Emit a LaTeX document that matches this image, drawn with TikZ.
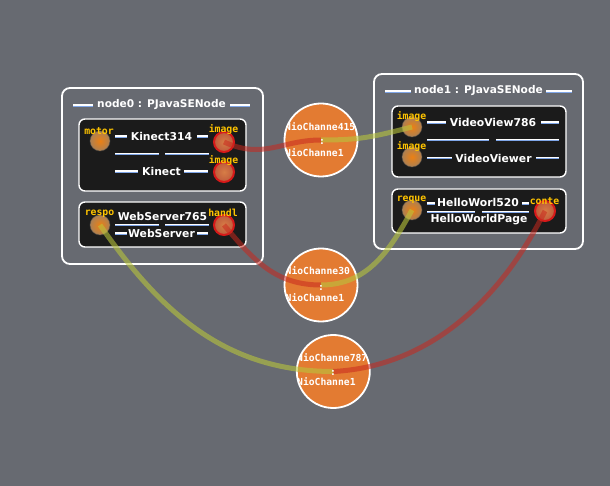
\documentclass[tikz,border=0pt]{standalone}
\usepackage{fontspec}
\setmainfont{DejaVu Sans}
\newfontfamily\pixm{DejaVu Sans Mono}
\usetikzlibrary{calc}
\definecolor{bgc}{HTML}{676A71}
\definecolor{boxc}{HTML}{1B1B1B}
\definecolor{sepblue}{HTML}{7FA6E8}
\definecolor{lblc}{HTML}{FFC400}
\definecolor{chc}{HTML}{E37B32}
\definecolor{wred}{HTML}{C8281E}
\definecolor{wyel}{HTML}{B8C43C}
\newcommand\dline[3]{\draw[white,line width=1.1pt] (#1,#3) -- (#2,#3); \draw[sepblue,line width=0.9pt] (#1,#3+1.2) -- (#2,#3+1.2);}
\tikzset{
  container/.style={draw=white, line width=1.8pt, rounded corners=8pt, rectangle, inner sep=0pt},
  innerbox/.style={draw=white, line width=1.4pt, fill=boxc, rounded corners=6pt, rectangle, inner sep=0pt},
  ttl/.style={text=white, font=\fontsize{10.6}{12}\selectfont\bfseries, inner sep=0pt},
  comp/.style={text=white, font=\fontsize{10.8}{12}\selectfont\bfseries, inner sep=0pt},
  plbl/.style={text=lblc, font=\pixm\fontsize{9.8}{10}\selectfont\bfseries, inner sep=0pt},
  inport/.style={circle, minimum size=20pt, inner sep=0pt, draw=gray!60!black, draw opacity=0.4, line width=1pt, shading=radial, inner color=orange!70!brown, outer color=brown!70!gray},
  outport/.style={circle, minimum size=20pt, inner sep=0pt, draw={rgb,255:red,215;green,25;blue,25}, line width=2pt, shading=radial, inner color={rgb,255:red,215;green,125;blue,70}, outer color={rgb,255:red,190;green,90;blue,60}},
  chan/.style={circle, minimum size=73pt, inner sep=0pt, fill=chc, draw=white, line width=1.8pt},
  chtxt/.style={text=white, font=\pixm\fontsize{9.7}{10}\selectfont\bfseries, inner sep=0pt},
  redwire/.style={draw=wred, line width=5pt, opacity=0.55},
  yelwire/.style={draw=wyel, line width=5pt, opacity=0.6},
}
\begin{document}
\begin{tikzpicture}[x=1pt,y=-1pt]
\useasboundingbox (0,0) rectangle (610,486);
\fill[bgc] (0,0) rectangle (610,486);
% containers
\node[container, minimum width=201pt, minimum height=176pt] (n0) at (162.5,176) {};
\node[container, minimum width=209pt, minimum height=175pt] (n1) at (478.5,161.5) {};
\node[ttl] (t0) at (161.5,105) {node0 : PJavaSENode};
\node[ttl] (t1) at (478.5,91) {node1 : PJavaSENode};
\dline{73}{93}{105}\dline{230}{250}{105}
\dline{385}{411}{91}\dline{546}{572}{91}
% inner boxes
\node[innerbox, minimum width=167pt, minimum height=72pt] (b0a) at (162.5,155) {};
\node[innerbox, minimum width=167pt, minimum height=45pt] (b0b) at (162.5,224.5) {};
\node[innerbox, minimum width=174pt, minimum height=71pt] (b1a) at (479,141.5) {};
\node[innerbox, minimum width=174pt, minimum height=44pt] (b1b) at (479,211) {};
% node0 box a
\node[comp] (k314) at (161.5,136.5) {Kinect314};
\dline{115}{127}{136}\dline{197}{208}{136}
\dline{115}{159}{153.5}\dline{165}{209}{153.5}
\node[comp] (kin) at (161.5,171.5) {Kinect};
\dline{115}{138}{171}\dline{184}{208}{171}
\node[inport] (pmotor) at (100,141) {};
\node[outport] (pimg1) at (224,142) {};
\node[outport] (pimg2) at (224,172) {};
% node0 box b
\node[comp] (ws765) at (162.5,216.5) {WebServer765};
\dline{115}{159}{224.5}\dline{165}{209}{224.5}
\node[comp] (ws) at (161.5,233.5) {WebServer};
\dline{115}{127}{233}\dline{197}{208}{233}
\node[inport] (prespo) at (100,225) {};
\node[outport] (phandl) at (224,225) {};
% node1 box a
\node[comp] (vv786) at (493,122) {VideoView786};
\dline{427}{446}{122}\dline{541}{559}{122}
\dline{427}{489}{139.5}\dline{496}{559}{139.5}
\node[comp] (vv) at (493.5,158) {VideoViewer};
\dline{427}{452}{157.5}\dline{536}{559}{157.5}
\node[inport] (pvimg1) at (412,127) {};
\node[inport] (pvimg2) at (412,157) {};
% node1 box b
\node[comp] (hw520) at (478,202.5) {HelloWorl520};
\dline{427}{435}{203}\dline{522}{529}{203}
\dline{427}{475}{211.5}\dline{482}{529}{211.5}
\node[comp] (hwp) at (479,220) {HelloWorldPage};
\node[inport] (preque) at (412,210) {};
\node[outport] (pconte) at (545,211) {};
% port labels
\node[plbl] (lmotor) at (99,131) {motor};
\node[plbl] (limg1) at (223.5,130) {image};
\node[plbl] (limg2) at (223.5,161) {image};
\node[plbl] (lrespo) at (99.5,214) {respo};
\node[plbl] (lhandl) at (223,213) {handl};
\node[plbl] (lvimg1) at (411.5,117) {image};
\node[plbl] (lvimg2) at (411.5,147) {image};
\node[plbl] (lreque) at (411.5,200) {reque};
\node[plbl] (lconte) at (544.5,201) {conte};
% channels
\node[chan] (c1) at (321,140) {};
\node[chan] (c2) at (321,285) {};
\node[chan] (c3) at (333.3,371.5) {};
% wires
\draw[redwire] (pimg1.center) .. controls +(40,18) and +(-40,0) .. (c1.center);
\draw[yelwire] (c1.center) .. controls +(40,0) and +(-40,10) .. (pvimg1.center);
\draw[redwire] (phandl.center) .. controls +(30,36) and +(-45,0) .. (c2.center);
\draw[yelwire] (c2.center) .. controls +(47,0) and +(-22,40) .. (preque.center);
\draw[yelwire] (prespo.center) .. controls +(61,88) and +(-107,0) .. (c3.center);
\draw[redwire] (c3.center) .. controls +(95,-5) and +(-45,90) .. (pconte.center);
% channel texts
\begin{scope}
\clip (321,140) circle (37);
\node[chtxt, anchor=west] (c1a) at (285,126.5) {NioChanne415};
\node[chtxt] (c1b) at (322,141.5) {:};
\node[chtxt, anchor=west] (c1c) at (285,152.5) {NioChanne1};
\end{scope}
\begin{scope}
\clip (321,285) circle (37);
\node[chtxt, anchor=west] (c2a) at (285.5,271) {NioChanne30};
\node[chtxt] (c2b) at (321,287.5) {:};
\node[chtxt, anchor=west] (c2c) at (285.5,298) {NioChanne1};
\end{scope}
\begin{scope}
\clip (333.3,371.5) circle (37);
\node[chtxt, anchor=west] (c3a) at (297,358) {NioChanne787};
\node[chtxt] (c3b) at (333,373) {:};
\node[chtxt, anchor=west] (c3c) at (297,382) {NioChanne1};
\end{scope}
\end{tikzpicture}
\end{document}
